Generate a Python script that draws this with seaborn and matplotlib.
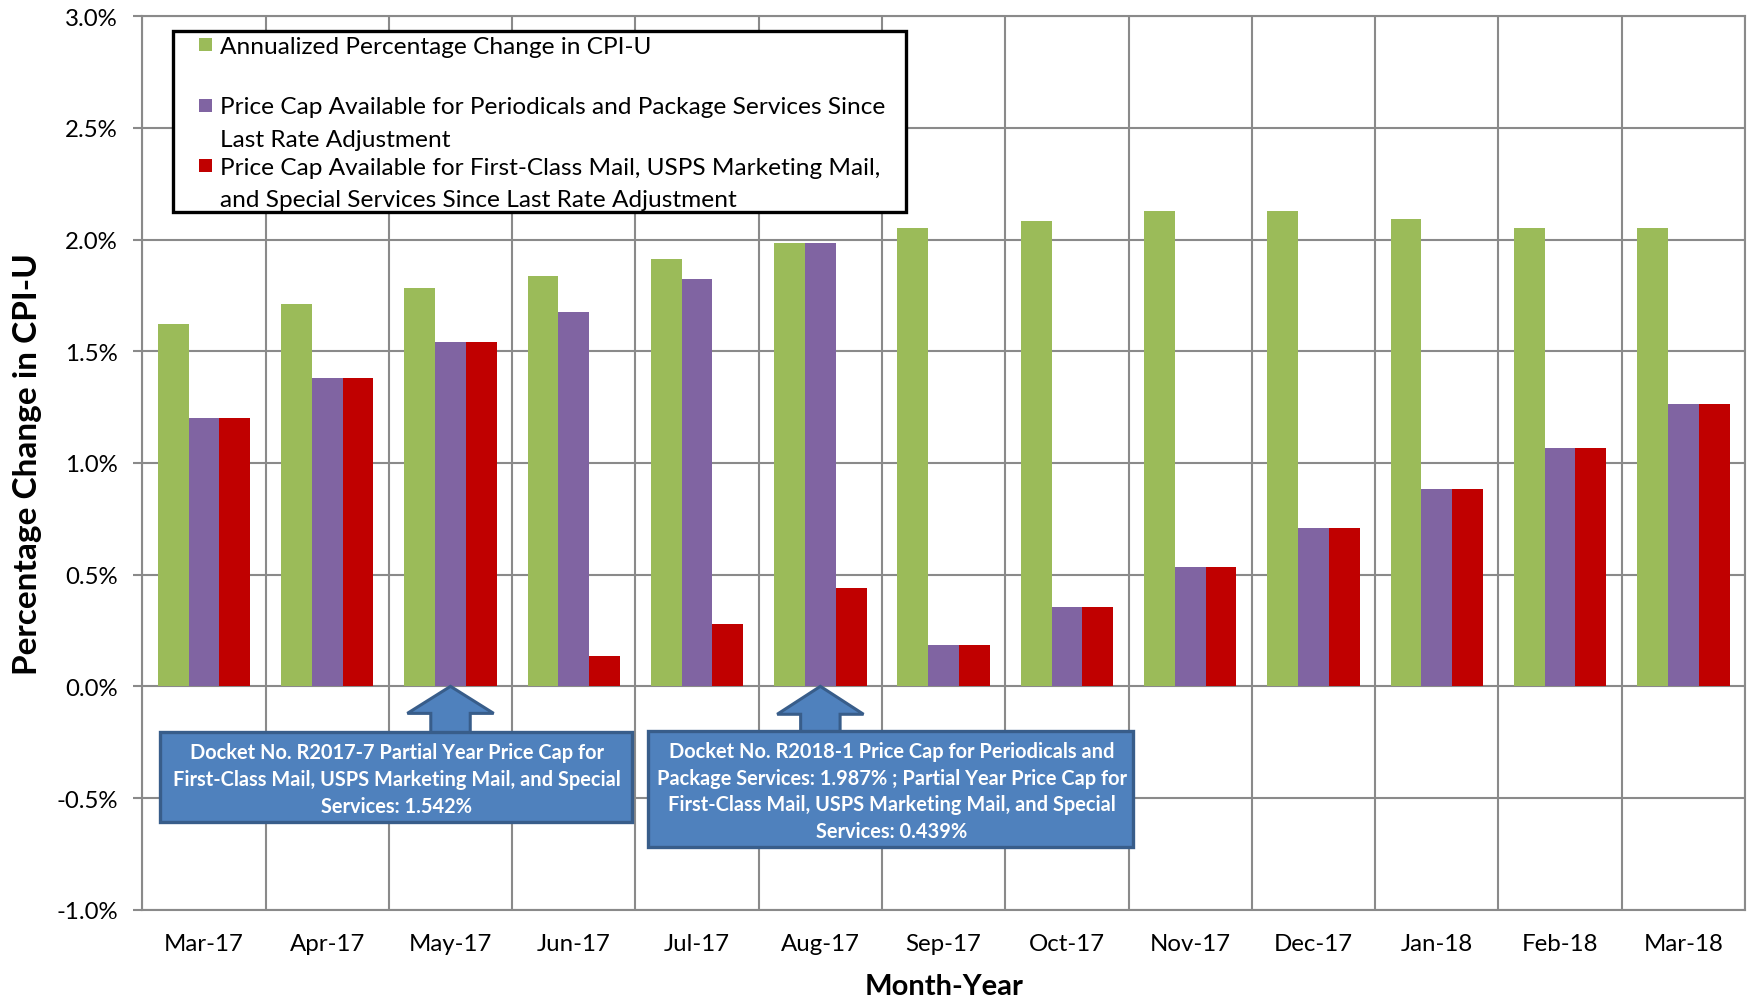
import numpy as np
import pandas as pd
import matplotlib
matplotlib.use("Agg")
import matplotlib.pyplot as plt
from matplotlib.patches import Rectangle, Polygon
from matplotlib.ticker import FuncFormatter
import seaborn as sns

# ---------------- data ----------------
months = ["Mar-17", "Apr-17", "May-17", "Jun-17", "Jul-17", "Aug-17", "Sep-17",
          "Oct-17", "Nov-17", "Dec-17", "Jan-18", "Feb-18", "Mar-18"]
cpi_change = [1.622, 1.713, 1.784, 1.837, 1.913, 1.987, 2.051,
              2.084, 2.127, 2.130, 2.094, 2.051, 2.051]
cap_periodicals = [1.200, 1.382, 1.542, 1.678, 1.824, 1.987, 0.185,
                   0.354, 0.536, 0.710, 0.884, 1.066, 1.263]
cap_first_class = [1.200, 1.382, 1.542, 0.134, 0.278, 0.439, 0.185,
                   0.354, 0.536, 0.710, 0.884, 1.066, 1.263]
series_names = [
    "Annualized Percentage Change in CPI-U",
    "Price Cap Available for Periodicals and Package Services Since\nLast Rate Adjustment",
    "Price Cap Available for First-Class Mail, USPS Marketing Mail,\nand Special Services Since Last Rate Adjustment",
]
series_colors = ["#9BBB59", "#8064A2", "#C00000"]
y_ticks = [-1.0, -0.5, 0.0, 0.5, 1.0, 1.5, 2.0, 2.5, 3.0]
note1 = "Docket No. R2017-7 Partial Year Price Cap for\nFirst-Class Mail, USPS Marketing Mail, and Special\nServices: 1.542%"
note2 = ("Docket No. R2018-1 Price Cap for Periodicals and\nPackage Services: 1.987% ; Partial Year Price Cap for\n"
         "First-Class Mail, USPS Marketing Mail, and Special\nServices: 0.439%")

df = pd.DataFrame({
    "Month": months * 3,
    "Series": [series_names[0]] * len(months) + [series_names[1]] * len(months) + [series_names[2]] * len(months),
    "Value": cpi_change + cap_periodicals + cap_first_class,
})

# ---------------- figure ----------------
plt.rcParams["font.family"] = ["Lato", "DejaVu Sans"]
W, H = 1747, 1003
fig = plt.figure(figsize=(W / 100, H / 100), dpi=100)
ax_l, ax_r, ax_t, ax_b = 142.3, 1745.0, 17.3, 910.7
ax = fig.add_axes([ax_l / W, 1 - ax_b / H, (ax_r - ax_l) / W, (ax_b - ax_t) / H])

sns.barplot(data=df, x="Month", y="Value", hue="Series", hue_order=series_names,
            palette=series_colors, width=0.75, saturation=1, linewidth=0,
            errorbar=None, legend=False, ax=ax, zorder=3)

grid_c = "#8A8A8A"
ax.set_xlim(-0.5, len(months) - 0.5)
ax.set_ylim(-1.0, 3.0)
ax.set_yticks(y_ticks)
ax.yaxis.set_major_formatter(FuncFormatter(lambda v, p: f"{v:.1f}%"))
ax.set_xticks(np.arange(-0.5, len(months), 1.0), minor=True)
ax.grid(which="major", axis="y", color=grid_c, lw=1.5, zorder=0)
ax.grid(which="minor", axis="x", color=grid_c, lw=1.5, zorder=0)
ax.grid(which="major", axis="x", visible=False)
ax.set_axisbelow(True)
for s in ax.spines.values():
    s.set_color(grid_c)
    s.set_linewidth(1.5)
ax.tick_params(axis="x", which="both", length=0, labelsize=17.3, pad=17, colors="black")
ax.tick_params(axis="y", which="major", length=6.5, width=1.5, color=grid_c,
               labelsize=17.3, pad=11, labelcolor="black")
ax.tick_params(axis="y", which="minor", length=0)

ax.set_xlabel("Month-Year", fontsize=21, fontweight="bold", va="center")
ax.xaxis.set_label_coords(0.5, (ax_b - 987) / (ax_b - ax_t))
ax.set_ylabel("Percentage Change in CPI-U", fontsize=24, fontweight="bold", va="center")
ax.yaxis.set_label_coords((27.9 - ax_l) / (ax_r - ax_l), 0.5)

# ---------------- annotations ----------------
box_fc, box_ec = "#4F81BD", "#385D8A"

def up_arrow(xc, ybase, ybox):
    hw, sw = 0.35, 0.16
    pts = [(xc, 0.0), (xc + hw, ybase), (xc + sw, ybase), (xc + sw, ybox - 0.01),
           (xc - sw, ybox - 0.01), (xc - sw, ybase), (xc - hw, ybase)]
    ax.add_patch(Polygon(pts, closed=True, fc=box_fc, ec=box_ec, lw=2.2, zorder=6,
                         joinstyle="miter", clip_on=False))

up_arrow(2.0, -0.121, -0.206)
up_arrow(5.0, -0.125, -0.199)
ax.add_patch(Rectangle((-0.356, -0.609), 3.470 + 0.356, 0.609 - 0.206,
                       fc=box_fc, ec=box_ec, lw=2.4, zorder=7))
ax.add_patch(Rectangle((3.605, -0.721), 7.534 - 3.605, 0.721 - 0.199,
                       fc=box_fc, ec=box_ec, lw=2.4, zorder=7))
ax.text(1.563, -0.415, note1, ha="center", va="center", color="white",
        fontsize=14.4, fontweight="bold", linespacing=1.42, zorder=8)
ax.text(5.579, -0.468, note2, ha="center", va="center", color="white",
        fontsize=14.4, fontweight="bold", linespacing=1.42, zorder=8)

# ---------------- legend (drawn as a boxed key) ----------------
def fx(px):
    return px / W

def fy(py):
    return 1 - py / H

fig.patches.append(Rectangle((fx(172.5), fy(212.8)), fx(905.8) - fx(172.5), fy(31.5) - fy(212.8),
                             transform=fig.transFigure, fc="white", ec="black", lw=2.4, zorder=10))
entry_y = [47.9, 108.0, 168.2]
line_gap = 32.4
for name, col, yy in zip(series_names, series_colors, entry_y):
    fig.patches.append(Rectangle((fx(198.5), fy(yy + 4.5)), fx(13), 13 / H,
                                 transform=fig.transFigure, fc=col, ec="none", zorder=11))
    for k, line in enumerate(name.split("\n")):
        fig.text(fx(219.5), fy(yy + k * line_gap), line, ha="left", va="center",
                 fontsize=17.6, color="black", zorder=12)

fig.savefig("out.png", dpi=100)
